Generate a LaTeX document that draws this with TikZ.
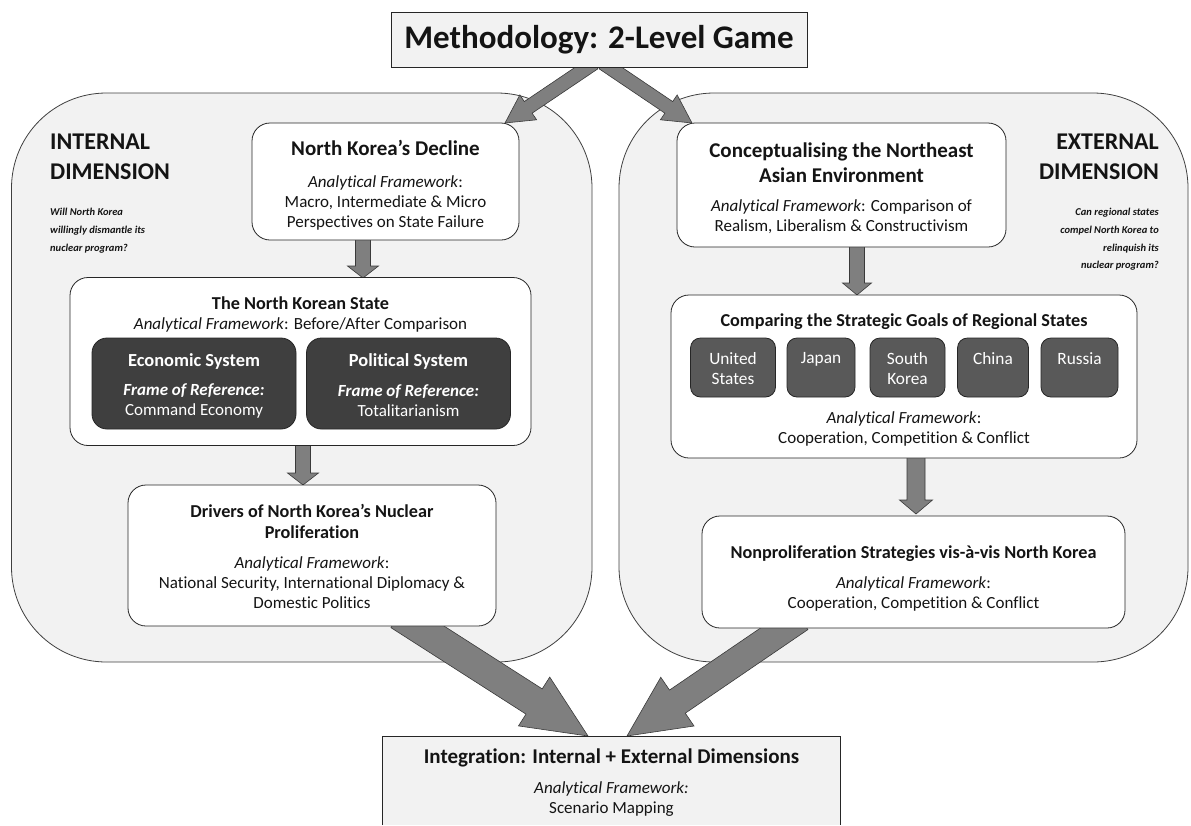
\documentclass[tikz,border=0pt]{standalone}
\usepackage{fontspec}
\setmainfont{Carlito}[Ligatures=NoCommon]
\usetikzlibrary{calc}
\definecolor{regfill}{HTML}{F2F2F2}
\definecolor{regline}{HTML}{404040}
\definecolor{darkone}{HTML}{3F3F3F}
\definecolor{darktwo}{HTML}{595959}
\definecolor{arrgrey}{HTML}{7F7F7F}
\definecolor{arrline}{HTML}{3A3A3A}
\definecolor{txtcol}{HTML}{141414}
\newcommand{\myfs}[2]{\fontsize{#1}{#2}\selectfont}
\newcommand{\AF}{\textit{Analytical Framework}}
\newcommand{\blockarrow}[6]{%
  \coordinate (#1-h) at ($(#3)!#6!(#2)$);
  \filldraw[barrow] ($(#2)!#4!90:(#3)$) -- ($(#1-h)!#4!90:(#3)$) -- ($(#1-h)!#5!90:(#3)$) -- (#3) -- ($(#1-h)!#5!-90:(#3)$) -- ($(#1-h)!#4!-90:(#3)$) -- ($(#2)!#4!-90:(#3)$) -- cycle;
}
\tikzset{
  regionbox/.style={draw=regline, fill=regfill, line width=0.8pt, rounded corners=95pt, inner sep=0pt},
  wbox/.style={draw=black!85, fill=white, line width=0.8pt, rounded corners=18pt, inner sep=0pt},
  dkbox/.style={draw=black!85, fill=darkone, line width=0.8pt, rounded corners=15pt, inner sep=0pt},
  ctybox/.style={draw=black!85, fill=darktwo, line width=0.8pt, rounded corners=10pt, inner sep=0pt, minimum height=59pt},
  sqbox/.style={draw=black!85, fill=regfill, line width=0.9pt, inner sep=0pt},
  barrow/.style={fill=arrgrey, draw=arrline, line width=0.6pt, line join=miter},
  ttl/.style={inner sep=0pt, align=center, text=txtcol, font=\bfseries\myfs{18.2}{21}},
  bodytxt/.style={inner sep=0pt, align=center, text=txtcol, font=\myfs{17}{20}},
  wtxt/.style={inner sep=0pt, align=center, text=white},
}
\begin{document}
\begin{tikzpicture}[x=1pt,y=-1pt]
\useasboundingbox (0,0) rectangle (1191,825);
% regions
\node[regionbox, minimum width=580.5pt, minimum height=569pt] (left) at (301.75,377.5) {};
\node[regionbox, minimum width=569pt, minimum height=569pt] (right) at (903.5,377.5) {};
% region labels
\node[inner sep=0pt, anchor=west, align=left, text=txtcol, font=\bfseries\myfs{24}{30}] (intl) at (50,157) {INTERNAL\\DIMENSION};
\node[inner sep=0pt, anchor=west, align=left, text=txtcol, font=\bfseries\itshape\myfs{10.5}{18}] (qint) at (50,231) {Will North Korea\\willingly dismantle its\\nuclear program?};
\node[inner sep=0pt, anchor=east, align=right, text=txtcol, font=\bfseries\myfs{24}{30}] (extl) at (1159,157) {EXTERNAL\\DIMENSION};
\node[inner sep=0pt, anchor=east, align=right, text=txtcol, font=\bfseries\itshape\myfs{10.5}{17.7}] (qext) at (1159,239.5) {Can regional states\\compel North Korea to\\relinquish its\\nuclear program?};
% top arrows
\coordinate (tls) at (594,63); \coordinate (tle) at (505,123);
\coordinate (trs) at (603,63); \coordinate (tre) at (692,123);
\blockarrow{ta1}{tls}{tle}{7pt}{15pt}{28pt}
\blockarrow{ta2}{trs}{tre}{7pt}{15pt}{28pt}
% title
\node[sqbox, minimum width=416pt, minimum height=55pt, text=txtcol, font=\bfseries\myfs{33}{38}] (title) at (599,39.5) {Methodology: 2-Level Game};
% big arrows
\coordinate (bls) at (399,615); \coordinate (ble) at (588,736);
\coordinate (brs) at (800,618); \coordinate (bre) at (627,736);
\blockarrow{ba1}{bls}{ble}{15pt}{29pt}{64pt}
\blockarrow{ba2}{brs}{bre}{14pt}{29.5pt}{61pt}
% down arrows
\coordinate (d1s) at (363,238); \coordinate (d1e) at (363,278);
\coordinate (d2s) at (303,444); \coordinate (d2e) at (303,485);
\coordinate (d3s) at (857,245); \coordinate (d3e) at (857,295);
\coordinate (d4s) at (916,456); \coordinate (d4e) at (916,514);
\blockarrow{da1}{d1s}{d1e}{7.5pt}{15.5pt}{12pt}
\blockarrow{da2}{d2s}{d2e}{7.5pt}{15.5pt}{12pt}
\blockarrow{da3}{d3s}{d3e}{7.5pt}{14.5pt}{12pt}
\blockarrow{da4}{d4s}{d4e}{9pt}{16.5pt}{14pt}
% left boxes
\node[wbox, minimum width=267pt, minimum height=117pt] (decline) at (385.5,181.5) {};
\node[ttl, font=\bfseries\myfs{21}{24}] (declinet) at (385.5,148) {North Korea’s Decline};
\node[bodytxt] (declineb) at (385.5,203) {\AF:\\Macro, Intermediate \& Micro\\Perspectives on State Failure};

\node[wbox, minimum width=461pt, minimum height=168pt] (state) at (300.5,361.5) {};
\node[ttl] (statet) at (300.5,303) {The North Korean State};
\node[bodytxt] (stateb) at (300.5,325) {\AF: Before/After Comparison};
\node[dkbox, minimum width=204pt, minimum height=91pt] (econ) at (194,383.5) {};
\node[wtxt, font=\bfseries\myfs{18.4}{20}] (econt) at (194,361) {Economic System};
\node[wtxt, font=\myfs{17}{20}] (econb) at (194,401) {\textbf{\textit{Frame of Reference:}}\\Command Economy};
\node[dkbox, minimum width=204pt, minimum height=91pt] (pol) at (408.5,383.5) {};
\node[wtxt, font=\bfseries\myfs{18.4}{20}] (polt) at (408.5,361) {Political System};
\node[wtxt, font=\myfs{17}{20}] (polb) at (408.5,401) {\textbf{\textit{Frame of Reference:}}\\Totalitarianism};

\node[wbox, minimum width=368pt, minimum height=141pt] (drivers) at (312,555.5) {};
\node[ttl] (driverst) at (312,521) {Drivers of North Korea’s Nuclear\\Proliferation};
\node[bodytxt] (driversb) at (312,583) {\AF:\\National Security, International Diplomacy \&\\Domestic Politics};
% right boxes
\node[wbox, minimum width=329pt, minimum height=124pt] (concept) at (841.5,185) {};
\node[ttl, font=\bfseries\myfs{21}{25}] (conceptt) at (841.5,163) {Conceptualising the Northeast\\Asian Environment};
\node[bodytxt] (conceptb) at (841.5,217) {\AF: Comparison of\\Realism, Liberalism \& Constructivism};

\node[wbox, minimum width=466pt, minimum height=163pt] (comp) at (904,376.5) {};
\node[ttl] (compt) at (904,322) {Comparing the Strategic Goals of Regional States};
\node[ctybox, minimum width=85pt] (us) at (733,367.5) {};
\node[ctybox, minimum width=68pt] (jp) at (821,367.5) {};
\node[ctybox, minimum width=75pt] (sk) at (907.5,367.5) {};
\node[ctybox, minimum width=71pt] (cn) at (993,367.5) {};
\node[ctybox, minimum width=77pt] (ru) at (1079.5,367.5) {};
\node[wtxt, font=\myfs{17.3}{20}] (ust) at (733,368.5) {United\\States};
\node[wtxt, font=\myfs{17.3}{20}] (jpt) at (821,359) {Japan};
\node[wtxt, font=\myfs{17.3}{20}] (skt) at (907.5,368.5) {South\\Korea};
\node[wtxt, font=\myfs{17.3}{20}] (cnt) at (993,359) {China};
\node[wtxt, font=\myfs{17.3}{20}] (rut) at (1079.5,359) {Russia};
\node[bodytxt] (compb) at (904,429) {\AF:\\Cooperation, Competition \& Conflict};

\node[wbox, minimum width=423pt, minimum height=112pt] (nonp) at (913.5,572) {};
\node[ttl] (nonpt) at (913.5,554) {Nonproliferation Strategies vis-à-vis North Korea};
\node[bodytxt] (nonpb) at (913.5,593.5) {\AF:\\Cooperation, Competition \& Conflict};
% integration
\node[fill=regfill, inner sep=0pt, minimum width=457pt, minimum height=88pt] (integ) at (611.5,781) {};
\draw[black!85, line width=0.9pt] (integ.south west) -- (integ.north west) -- (integ.north east) -- (integ.south east);
\node[ttl, font=\bfseries\myfs{21}{24}] (integt) at (611.5,758) {Integration: Internal + External Dimensions};
\node[bodytxt] (integb) at (611.5,799) {\textit{Analytical Framework:}\\Scenario Mapping};
\end{tikzpicture}
\end{document}
